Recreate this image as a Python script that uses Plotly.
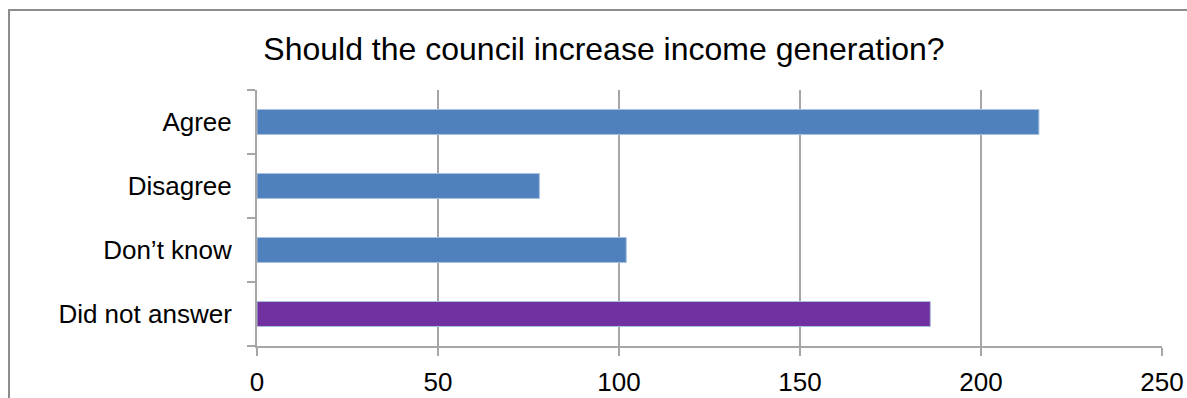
import plotly.graph_objects as go

categories = ["Agree", "Disagree", "Don\u2019t know", "Did not answer"]
values = [216, 78, 102, 186]
bar_colors = ["#4F81BD", "#4F81BD", "#4F81BD", "#7030A0"]
x_ticks = [0, 50, 100, 150, 200, 250]
title_text = "Should the council increase income generation?"

W, H = 1187, 398
L, R, T, B = 257, 25, 90, 52
pw, ph = W - L - R, H - T - B

fig = go.Figure()
fig.add_trace(go.Bar(
    y=categories, x=values, orientation="h",
    marker=dict(color=bar_colors, line=dict(color="#A9C0DE", width=1)),
    width=0.39,
))

FONT = "Liberation Sans, Arial, sans-serif"
fig.update_layout(
    width=W, height=H,
    margin=dict(l=L, r=R, t=T, b=B, autoexpand=False),
    paper_bgcolor="white", plot_bgcolor="white",
    showlegend=False,
    font=dict(family=FONT, color="black"),
    title=dict(text=title_text, x=604 / W, xanchor="center", y=1 - 49 / H, yanchor="middle",
               font=dict(size=32, family=FONT, color="black"), automargin=False),
    xaxis=dict(range=[0, 250], tickvals=x_ticks, showgrid=True, gridcolor="#A6A6A6", gridwidth=1.5,
               showline=True, linecolor="#A6A6A6", linewidth=2, ticks="outside", ticklen=8,
               tickcolor="#A6A6A6", tickwidth=1.5, tickfont=dict(size=26, family=FONT, color="black"),
               ticklabelstandoff=4,
               zeroline=False, fixedrange=True, automargin=False),
    yaxis=dict(categoryorder="array", categoryarray=categories[::-1], showgrid=False,
               showline=True, linecolor="#A6A6A6", linewidth=2, ticks="outside", ticklen=8,
               tickson="boundaries", tickcolor="#A6A6A6", tickwidth=1.5,
               tickfont=dict(size=26, family=FONT, color="black"), ticklabelstandoff=18,
               fixedrange=True, automargin=False),
    shapes=[dict(type="rect", xref="paper", yref="paper",
                 x0=(9 - L) / pw, x1=1.2, y0=-0.6, y1=(H - B - 10) / ph,
                 line=dict(color="#8C8C8C", width=2), fillcolor="rgba(0,0,0,0)", layer="below")],
)

fig.write_html(
    "out.html",
    config={"displayModeBar": False},
    post_script="document.body.style.margin='0';document.body.style.overflow='hidden';",
)
